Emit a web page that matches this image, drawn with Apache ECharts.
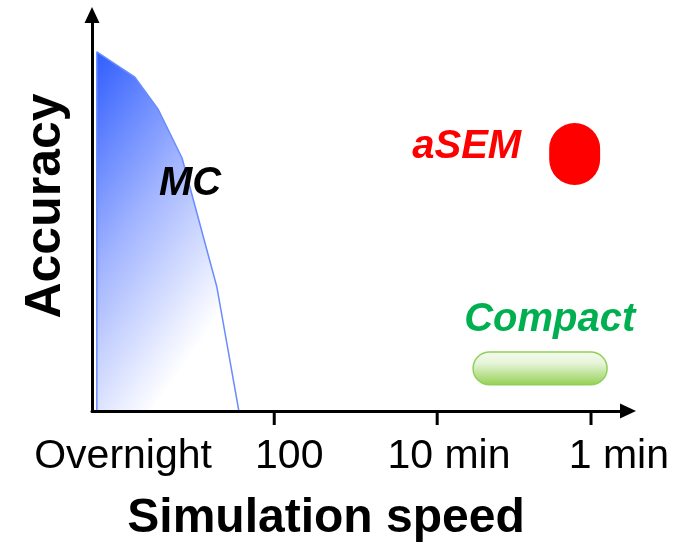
<!DOCTYPE html>
<html>
<head>
<meta charset="utf-8">
<script src="https://cdn.jsdelivr.net/npm/echarts@6/dist/echarts.min.js"></script>
<style>
  html, body { margin: 0; padding: 0; background: #fff; }
  #chart { width: 695px; height: 554px; }
</style>
</head>
<body>
<div id="chart"></div>
<script>
// Speed (x, 0 = slowest) and accuracy (y) on a 0–100 schematic scale.

// Monte Carlo accuracy/speed frontier
const mcSpeed    = [0.9, 0.9, 8.0, 12.3, 16.8, 23.3, 27.4];
const mcAccuracy = [0,   90.7, 84.3, 76.3, 63.9, 31.3, 0];

// aSEM operating region: [speedMin, speedMax, accMin, accMax]
const asemRegion = [85.3, 94.8, 57.1, 72.7];
// Compact model operating region
const compactRegion = [71.1, 96.1, 6.6, 14.9];

// Speed axis ticks and their labels
const tickSpeeds  = [34.0, 64.4, 93.1];
const speedLabels = ['Overnight', '100', '10 min', '1 min'];
const speedLabelPos = [5.8, 36.8, 66.6, 98.3];

// Method names and where they sit
const methodNames = ['MC', 'aSEM', 'Compact'];
const methodSpeed = [18.3, 69.9, 85.4];
const methodAcc   = [57.3, 66.8, 23.0];
const methodColors = ['#000000', '#ff0000', '#00b050'];

const FONT = '"Liberation Sans", Arial, sans-serif';

const chart = echarts.init(document.getElementById('chart'));

function regionRenderer(fill, stroke, lineWidth, radius) {
  return function (params, api) {
    const p0 = api.coord([api.value(0), api.value(3)]);
    const p1 = api.coord([api.value(1), api.value(2)]);
    const w = p1[0] - p0[0], h = p1[1] - p0[1];
    return {
      type: 'rect',
      shape: { x: p0[0], y: p0[1], width: w, height: h, r: radius(w, h) },
      style: { fill: fill, stroke: stroke, lineWidth: lineWidth }
    };
  };
}

chart.setOption({
  animation: false,
  backgroundColor: '#ffffff',
  grid: { left: 92, right: 67, top: 15, bottom: 143 },
  xAxis: {
    type: 'value', min: 0, max: 100, z: 5,
    axisLine: { lineStyle: { color: '#000', width: 3 }, symbol: ['none', 'triangle'], symbolSize: [15, 16] },
    axisTick: { show: false }, axisLabel: { show: false }, splitLine: { show: false }
  },
  yAxis: {
    type: 'value', min: 0, max: 100, z: 5,
    axisLine: { show: true, lineStyle: { color: '#000', width: 3 }, symbol: ['none', 'triangle'], symbolSize: [15, 16] },
    axisTick: { show: false }, axisLabel: { show: false }, splitLine: { show: false }
  },
  graphic: [
    {
      type: 'text', x: 326, y: 519,
      style: { text: 'Simulation speed', font: 'bold 48px ' + FONT, fill: '#000', textAlign: 'center', textVerticalAlign: 'middle' }
    },
    {
      type: 'text', x: 46, y: 206, rotation: Math.PI / 2,
      style: { text: 'Accuracy', font: 'bold 50px ' + FONT, fill: '#000', textAlign: 'center', textVerticalAlign: 'middle' }
    }
  ],
  series: [
    {
      name: 'MC', type: 'line', z: 2,
      data: mcSpeed.map((s, i) => [s, mcAccuracy[i]]),
      symbol: 'none',
      lineStyle: { color: '#6a8cff', width: 1.5 },
      areaStyle: {
        opacity: 1,
        // left-to-right fade, tilted down toward the bottom-right corner
        color: new echarts.graphic.LinearGradient(0, 0, 1.45, 0.4, [
          { offset: 0, color: '#2f5dff' },
          { offset: 0.5, color: '#a0b3ff' },
          { offset: 1, color: '#ffffff' }
        ])
      }
    },
    {
      name: 'aSEM', type: 'custom', z: 3,
      encode: { x: [0, 1], y: [2, 3] },
      data: [asemRegion],
      renderItem: regionRenderer('#ff0000', null, 0, (w, h) => Math.min(w, h) * 0.5)
    },
    {
      name: 'Compact', type: 'custom', z: 3,
      encode: { x: [0, 1], y: [2, 3] },
      data: [compactRegion],
      renderItem: regionRenderer(
        new echarts.graphic.LinearGradient(0, 0, 0, 1, [
          { offset: 0, color: '#f6fbf0' },
          { offset: 0.35, color: '#e6f4d8' },
          { offset: 1, color: '#92d050' }
        ]),
        '#8fd05a', 1.5, (w, h) => h / 2)
    },
    {
      name: 'ticks', type: 'scatter', z: 6, clip: false, silent: true,
      data: tickSpeeds.map(s => [s, 0]),
      symbol: 'rect', symbolSize: [3, 14], symbolOffset: [0, 7],
      itemStyle: { color: '#000', opacity: 1 }
    },
    {
      name: 'speedLabels', type: 'scatter', z: 6, clip: false, silent: true,
      data: speedLabels.map((t, i) => ({ value: [speedLabelPos[i], 0], name: t })),
      symbolSize: 0,
      itemStyle: { opacity: 1 },
      label: {
        show: true, position: 'inside', offset: [0, 46],
        formatter: p => p.name,
        fontFamily: FONT, fontSize: 41, color: '#000'
      }
    },
    {
      name: 'methodNames', type: 'scatter', z: 7, clip: false, silent: true,
      data: methodNames.map((t, i) => ({
        value: [methodSpeed[i], methodAcc[i]], name: t,
        label: { color: methodColors[i] }
      })),
      symbolSize: 0,
      itemStyle: { opacity: 1 },
      label: {
        show: true, position: 'inside',
        formatter: p => p.name,
        fontFamily: FONT, fontSize: 40, fontWeight: 'bold', fontStyle: 'italic'
      }
    }
  ]
});
</script>
</body>
</html>
